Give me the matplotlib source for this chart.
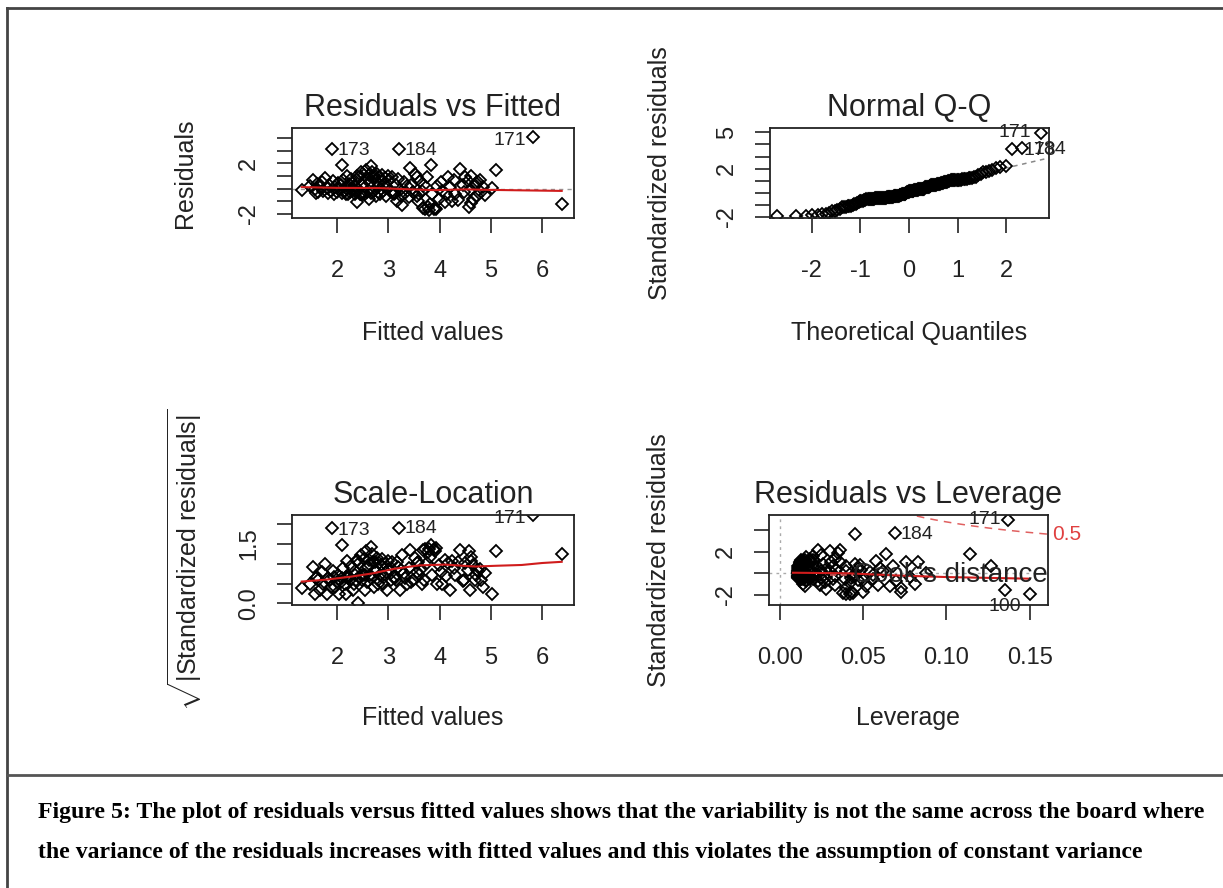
import numpy as np
import matplotlib.pyplot as plt
from matplotlib.lines import Line2D
from statistics import NormalDist

plt.rcParams["font.family"] = "Liberation Sans"
plt.rcParams["mathtext.fontset"] = "custom"
plt.rcParams["mathtext.rm"] = "Liberation Sans"
plt.rcParams["mathtext.it"] = "Liberation Sans:italic"

# ids of the first four rows (the ones R labels)
obs_id = [171, 173, 184, 100]

fitted = [5.82, 1.90, 3.20, 3.93, 6.38, 5.09, 5.03, 4.75, 1.31, 4.40,
          4.17, 4.50, 4.70, 4.45, 4.30, 4.35, 4.24, 4.57, 4.62, 4.72,
          4.10, 3.78, 4.85, 4.80, 4.65, 4.55, 4.62, 3.55, 4.05, 4.20,
          1.48, 1.52, 1.56, 1.60, 1.63, 1.67, 1.70, 1.73,
          1.77, 1.80, 1.82, 1.85, 1.88, 1.91, 1.94, 1.96, 1.99, 2.02, 2.04, 2.09,
          2.07, 2.10, 2.12, 2.15, 2.17, 2.20, 2.22, 2.24, 2.26, 2.28, 2.30, 2.32,
          2.34, 2.35, 2.37, 2.38, 2.39, 2.40,
          2.42, 2.44, 2.46, 2.48, 2.50, 2.52, 2.54, 2.56, 2.58, 2.60, 2.62, 2.63,
          2.65, 2.67, 2.69, 2.70, 2.72, 2.73, 2.75, 2.76, 2.78, 2.79, 2.80, 2.66, 2.55,
          2.82, 2.84, 2.86, 2.88, 2.90, 2.92, 2.94, 2.96, 2.98, 3.00, 3.02, 3.05,
          3.08, 3.10, 3.13, 3.15, 3.17, 3.18,
          3.22, 3.24, 3.26, 3.30, 3.33, 3.36, 3.40, 3.43, 3.45, 3.48, 3.52, 3.55,
          3.57, 3.59,
          3.62, 3.65, 3.68, 3.70, 3.72, 3.75, 3.80, 3.82, 3.83, 3.85, 3.88, 3.95,
          3.98, 3.90,
          4.02, 4.12, 4.28, 4.48, 4.60, 4.68, 4.78, 4.88, 1.58, 2.18, 2.47]

resid = [4.05, 3.12, 3.12, -1.58, -1.25, 1.45, 0.05, 0.55, -0.13, 1.55,
         0.88, 0.88, 0.45, 0.28, -0.45, -0.92, -0.98, -1.46, -1.15, -0.62,
         -1.02, -1.45, 0.15, -0.30, -0.80, 0.60, 1.00, -0.55, -0.20, 0.10,
         0.20, 0.72, -0.05, 0.40, -0.30, 0.10, 0.55, -0.20,
         0.85, 0.05, -0.35, 0.30, -0.15, 0.60, -0.40, 0.15, -0.25, 0.45, -0.05, 1.90,
         0.25, -0.35, 0.70, -0.20, 0.05, 1.00, -0.40, 0.40, -0.30, 0.80, -0.10, 0.20,
         -0.45, 0.60, -0.30, -1.05, 1.00, 0.00,
         0.90, -0.40, 1.30, 0.30, -0.45, 1.10, 0.10, 1.50, -0.25, 0.75, -0.85, 1.05,
         0.45, -0.35, 1.35, 0.95, -0.15, 0.95, -0.60, 0.60, 1.15, 0.20, -0.30, 1.75, -0.45,
         0.90, -0.45, 0.80, 1.10, -0.20, 0.40, 0.85, -0.55, 0.10, 1.00, 0.65, -0.30,
         0.95, -0.40, -0.35, 0.30, -0.95, 0.75,
         -0.10, -0.60, -1.30, 0.50, -0.35, 0.20, -0.70, 1.60, 0.25, -0.30, 1.15, 0.90,
         -0.95, -0.45,
         0.60, -0.20, -1.55, 0.30, -1.62, 0.92, -1.65, -1.20, 1.85, -0.45, -1.60, 0.21,
         -0.80, -1.50,
         0.55, -0.40, 0.70, -0.30, -0.10, 0.30, 0.65, -0.50, -0.35, -0.40, -0.45]

leverage = [0.137, 0.045, 0.069, 0.150, 0.135, 0.114, 0.088, 0.127, 0.056, 0.064,
            0.076, 0.083, 0.060, 0.049, 0.056, 0.059, 0.066, 0.073, 0.073, 0.070,
            0.052, 0.050, 0.062, 0.078, 0.081, 0.068, 0.058, 0.047, 0.045, 0.054,
            0.030, 0.026, 0.022, 0.020, 0.019, 0.018, 0.017, 0.016,
            0.016, 0.015, 0.015, 0.014, 0.014, 0.013, 0.013, 0.013, 0.012, 0.012, 0.012, 0.023,
            0.012, 0.012, 0.012, 0.011, 0.011, 0.013, 0.012, 0.011, 0.011, 0.012, 0.011, 0.011,
            0.013, 0.011, 0.011, 0.015, 0.014, 0.011,
            0.012, 0.011, 0.016, 0.011, 0.012, 0.013, 0.011, 0.025, 0.011, 0.012, 0.014, 0.015,
            0.012, 0.012, 0.020, 0.013, 0.012, 0.014, 0.016, 0.013, 0.018, 0.013, 0.013, 0.030, 0.013,
            0.015, 0.014, 0.014, 0.020, 0.014, 0.014, 0.015, 0.016, 0.015, 0.018, 0.016, 0.017,
            0.018, 0.018, 0.019, 0.019, 0.024, 0.020,
            0.021, 0.023, 0.028, 0.023, 0.025, 0.025, 0.027, 0.035, 0.027, 0.028, 0.033, 0.031,
            0.033, 0.032,
            0.032, 0.033, 0.038, 0.034, 0.040, 0.036, 0.042, 0.040, 0.036, 0.039, 0.044, 0.040,
            0.042, 0.043,
            0.040, 0.043, 0.045, 0.044, 0.046, 0.047, 0.048, 0.050, 0.025, 0.014, 0.020]

sigma = 0.88      # residual standard error
n_par = 5         # model parameters (for Cook's distance contour)

# red smoother lines
rf_smooth_x = [1.31, 2.0, 2.8, 3.3, 3.9, 4.5, 5.0, 6.38]
rf_smooth_y = [0.12, 0.06, 0.05, -0.04, -0.12, -0.06, -0.10, -0.18]
sl_smooth_x = [1.31, 1.8, 2.3, 2.7, 3.1, 3.6, 4.1, 4.7, 5.1, 5.6, 6.0, 6.38]
sl_smooth_y = [0.55, 0.60, 0.68, 0.76, 0.87, 0.96, 0.98, 0.93, 0.95, 0.97, 1.02, 1.05]
rl_smooth_x = [0.008, 0.04, 0.07, 0.10, 0.15]
rl_smooth_y = [0.05, 0.0, -0.2, -0.35, -0.5]

caption = ["Figure 5: The plot of residuals versus fitted values shows that the variability is not the same across the board where",
           "the variance of the residuals increases with fitted values and this violates the assumption of constant variance"]

fitted = np.array(fitted)
resid = np.array(resid)
leverage = np.array(leverage)
std_resid = resid / (sigma * np.sqrt(1 - leverage))
n = len(resid)
order = np.argsort(std_resid)
theo = np.array([NormalDist().inv_cdf((i + 0.5) / n) for i in range(n)])
qq_x = np.empty(n)
qq_x[order] = theo

W, H = 1223, 888
fig = plt.figure(figsize=(W / 100, H / 100), dpi=100)
TXT = "#222222"
RED = "#d01c1c"


def make_ax(x0, y0, x1, y1):
    return fig.add_axes([x0 / W, 1 - y1 / H, (x1 - x0) / W, (y1 - y0) / H])


def style(ax, title, xlabel, ylabel, xticks, xlabels, yticks, ylabels, xl_y, yl_x):
    ax.set_title(title, fontsize=22, pad=9, color=TXT)
    ax.set_xticks(xticks)
    ax.set_xticklabels(xlabels)
    ax.set_yticks(yticks)
    ax.set_yticklabels(ylabels)
    ax.tick_params(axis="both", direction="out", length=11, width=1.2,
                   labelsize=17, colors=TXT)
    ax.tick_params(axis="x", pad=19)
    ax.tick_params(axis="y", pad=12, labelrotation=90)
    for lbl in ax.get_yticklabels():
        lbl.set_va("center")
    ax.set_xlabel(xlabel, fontsize=18, va="center", color=TXT)
    ax.xaxis.set_label_coords(0.5, xl_y)
    ax.set_ylabel(ylabel, fontsize=18, va="center", color=TXT)
    ax.yaxis.set_label_coords(yl_x, 0.5)
    for s in ax.spines.values():
        s.set_linewidth(1.3)
        s.set_color(TXT)


def pts(ax, x, y):
    ax.plot(x, y, ls="none", marker="D", ms=5.8, mfc="none", mec="black", mew=1.3)


def label(ax, ids, xs, ys, offsets, aligns):
    for i, (dx, dy), ha in zip(ids, offsets, aligns):
        k = obs_id.index(i)
        t = ax.annotate(str(i), (xs[k], ys[k]), xytext=(dx, dy), textcoords="offset points",
                        ha=ha, va="center", fontsize=14, color=TXT)
        t.set_clip_on(True)


# Residuals vs Fitted
ax1 = make_ax(292, 128, 574, 218)
ax1.axhline(0, color="#999999", lw=1, ls=(0, (3, 3)))
pts(ax1, fitted, resid)
ax1.plot(rf_smooth_x, rf_smooth_y, color=RED, lw=1.5)
ax1.set_xlim(1.12, 6.62)
ax1.set_ylim(-2.32, 4.79)
style(ax1, "Residuals vs Fitted", "Fitted values", "Residuals",
      [2, 3, 4, 5, 6], ["2", "3", "4", "5", "6"],
      [-2, -1, 0, 1, 2, 3, 4], ["-2", "", "", "", "2", "", ""], -1.278, -0.379)
label(ax1, [171, 173, 184], fitted, resid, [(-5, -2), (4, -1), (4, -1)], ["right", "left", "left"])

# Normal Q-Q
ax2 = make_ax(770, 128, 1049, 218)
q1, q3 = np.quantile(std_resid, [0.25, 0.75])
z1, z3 = NormalDist().inv_cdf(0.25), NormalDist().inv_cdf(0.75)
slope = (q3 - q1) / (z3 - z1)
xs_line = np.array([-3.0, 3.0])
ax2.plot(xs_line, q1 + slope * (xs_line - z1), color="#888888", lw=1.1, ls=(0, (3, 3)))
pts(ax2, qq_x, std_resid)
ax2.set_xlim(-2.86, 2.88)
ax2.set_ylim(-2.08, 5.36)
style(ax2, "Normal Q-Q", "Theoretical Quantiles", "Standardized residuals",
      [-2, -1, 0, 1, 2], ["-2", "-1", "0", "1", "2"],
      [-2, -1, 0, 1, 2, 3, 4, 5], ["-2", "", "", "", "2", "", "", "5"], -1.278, -0.394)
label(ax2, [171, 173, 184], qq_x, std_resid, [(-7, 0), (8, -1), (8, -1)], ["right", "left", "left"])
for t in ax2.texts:
    t.set_clip_on(False)

# Scale-Location
sl_y = np.sqrt(np.abs(std_resid))
ax3 = make_ax(292, 515, 574, 605)
pts(ax3, fitted, sl_y)
ax3.plot(sl_smooth_x, sl_smooth_y, color=RED, lw=1.5)
ax3.set_xlim(1.12, 6.62)
ax3.set_ylim(-0.043, 2.235)
style(ax3, "Scale-Location", "Fitted values", r"$\sqrt{|\mathrm{Standardized\ residuals}|}$",
      [2, 3, 4, 5, 6], ["2", "3", "4", "5", "6"],
      [0, 0.5, 1.0, 1.5, 2.0], ["0.0", "", "", "1.5", ""], -1.256, -0.379)
label(ax3, [171, 173, 184], fitted, sl_y, [(-5, -2), (4, -2), (4, -1)], ["right", "left", "left"])

# Residuals vs Leverage
ax4 = make_ax(769, 515, 1048, 605)
ax4.axhline(0, color="#aaaaaa", lw=1, ls=(0, (2, 3)))
ax4.axvline(0, color="#aaaaaa", lw=1, ls=(0, (2, 3)))
pts(ax4, leverage, std_resid)
ax4.plot(rl_smooth_x, rl_smooth_y, color=RED, lw=1.5)
hh = np.linspace(0.01, 0.165, 200)
cook = np.sqrt(0.5 * n_par * (1 - hh) / hh)
ax4.plot(hh, cook, color="#e06060", lw=1.1, ls=(0, (5, 4)))
ax4.plot(hh, -cook, color="#e06060", lw=1.1, ls=(0, (5, 4)))
ax4.set_xlim(-0.0064, 0.161)
ax4.set_ylim(-2.93, 5.38)
style(ax4, "Residuals vs Leverage", "Leverage", "Standardized residuals",
      [0, 0.05, 0.10, 0.15], ["0.00", "0.05", "0.10", "0.15"],
      [-2, 0, 2, 4], ["-2", "", "2", ""], -1.256, -0.394)
label(ax4, [171, 184, 100], leverage, std_resid, [(-5, 0), (4, -1), (-6, -9)], ["right", "left", "right"])
for t in ax4.texts:
    t.set_clip_on(False)
c_edge = np.sqrt(0.5 * n_par * (1 - 0.161) / 0.161)
ax4.text(1.015, (c_edge + 2.93) / 8.31, "0.5", transform=ax4.transAxes, color="#e04040",
         fontsize=15, va="center", ha="left")
ax4.plot([0.22, 0.30], [0.33, 0.33], transform=ax4.transAxes, color="#e06060", lw=1.1, ls=(0, (4, 3)))
ax4.text(0.30, 0.33, "Cook's distance", transform=ax4.transAxes, fontsize=20,
         color=TXT, va="center", ha="left")

# page frame and caption
fig.add_artist(Line2D([7 / W, 7 / W], [0, 1 - 8 / H], color="#444444", lw=2))
fig.add_artist(Line2D([7 / W, 1], [1 - 8 / H, 1 - 8 / H], color="#444444", lw=2))
fig.add_artist(Line2D([7 / W, 1], [1 - 775 / H, 1 - 775 / H], color="#555555", lw=2))
fig.text(38 / W, 1 - 812 / H, caption[0], fontfamily="Liberation Serif", fontweight="bold",
         fontsize=17.1, va="center", ha="left", color="black")
fig.text(38 / W, 1 - 852 / H, caption[1], fontfamily="Liberation Serif", fontweight="bold",
         fontsize=17.1, va="center", ha="left", color="black")

fig.savefig("out.png", dpi=100)
